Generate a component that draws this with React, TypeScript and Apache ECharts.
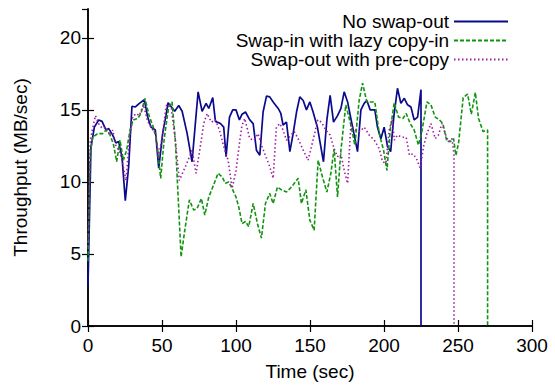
import React, { useEffect, useRef } from "react";
import * as echarts from "echarts";

const seriesNames = ["No swap-out", "Swap-in with lazy copy-in", "Swap-out with pre-copy"];

const noSwapOut: [number, number][] = [
  [0, 2.8], [2, 12.4], [4.3, 13.8], [7.2, 14.3], [9.5, 14.2], [12.2, 13.6], [14, 13.7], [16.7, 13.25],
  [18.9, 12.7], [20.7, 12.8], [23, 11.7], [25.2, 8.7], [27.5, 11.1], [29.7, 15.25], [32, 15.2],
  [34.7, 15.45], [38.1, 15.7], [40.3, 14.5], [42.6, 13.8], [45.5, 13.6], [47.8, 10.95], [50.5, 13.4],
  [52.7, 14.6], [54.1, 15.5], [58.6, 14.9], [61.3, 15.3], [63.6, 14.9], [66.9, 13.4], [70.3, 11.4],
  [74.4, 16.25], [77.1, 14.9], [79.8, 15.45], [81.6, 15.1], [84.3, 15.85], [86.1, 14.2], [89.5, 14.05],
  [91.7, 13.8], [93.3, 11.75], [95.6, 14.5], [97.8, 15.0], [100, 15.0], [102.3, 14.3], [104.1, 14.7],
  [106.4, 14.85], [109.3, 14.3], [111.6, 14.05], [113.8, 12.2], [116.1, 11.85], [118.3, 14.85],
  [120.6, 15.95], [122.8, 15.9], [125.1, 15.55], [128.5, 15.1], [130.3, 14.75], [131.8, 13.95],
  [134.1, 14.15], [136.4, 12.1], [138.6, 13.35], [140.9, 14.85], [143.1, 15.9], [145.4, 15.65],
  [147.6, 15.0], [149.9, 15.55], [152.1, 14.85], [155, 13.8], [159.1, 11.4], [161.4, 14.3], [163.6, 16.0],
  [165.9, 14.15], [168.6, 14.6], [170.9, 15.1], [173.1, 16.25], [175.4, 15.55], [177.6, 14.4],
  [179.9, 13.25], [182.1, 12.1], [184.4, 15.0], [186.6, 15.45], [188.4, 15.65], [190.7, 15.0],
  [193.8, 15.0], [195.6, 13.8], [197.9, 13.0], [200.1, 13.8], [202.4, 12.45], [204.5, 12.1],
  [206.6, 14.5], [209.1, 16.5], [211.4, 15.45], [213.7, 15.8], [215.9, 15.35], [218.2, 15.2],
  [220.4, 14.3], [222.7, 14.5], [225, 16.4], [225, 0],
];

const lazyCopyIn: [number, number][] = [
  [0, 4.5], [1.5, 12.0], [3.2, 13.1], [6.5, 13.35], [9.9, 13.35], [12.2, 13.6], [14.9, 13.25],
  [17.1, 12.65], [19.4, 11.4], [21.6, 12.9], [23.9, 11.5], [26.1, 12.2], [28.4, 13.6], [30.6, 14.3],
  [33.6, 14.4], [35.8, 14.75], [38.5, 15.8], [41.5, 14.5], [43.7, 13.95], [46.4, 12.9], [49.1, 10.25],
  [51.5, 13.0], [54.5, 15.2], [56.8, 15.55], [59, 12.9], [60.9, 9.0], [62.9, 4.8], [65.4, 6.65],
  [68.5, 8.75], [71.4, 8.05], [73.7, 8.15], [76.6, 8.85], [78.9, 7.7], [81.6, 8.95], [84.9, 9.8],
  [87.9, 10.6], [90.6, 10.35], [92.8, 9.9], [95.1, 10.0], [97.8, 9.45], [100, 8.95], [102, 8.2],
  [104.1, 7.1], [106.4, 7.25], [108.6, 6.9], [111.6, 8.5], [114.5, 7.1], [117.2, 6.1], [119.9, 8.5],
  [122.8, 9.2], [125.1, 8.5], [128, 9.65], [130.7, 9.45], [134.1, 9.3], [137.5, 9.65], [142, 10.25],
  [144.2, 8.5], [147.2, 9.45], [149.9, 7.35], [152.8, 6.65], [155.5, 11.5], [158.4, 10.35],
  [161.4, 9.3], [164.1, 10.6], [166.3, 12.3], [168.6, 8.95], [170.9, 12.2], [174.2, 15.35],
  [177.6, 13.95], [180.3, 12.55], [183.2, 15.65], [185.5, 16.85], [188.4, 15.55], [191.1, 15.55],
  [193.8, 15.55], [196.8, 13.35], [199.7, 12.2], [202, 10.8], [204.2, 13.6], [206.9, 15.5],
  [209.8, 14.5], [212.8, 14.4], [215, 14.75], [217.7, 14.05], [220.4, 13.6], [223.3, 12.55],
  [225.6, 13.5], [229, 15.55], [231.7, 15.35], [234.6, 14.5], [237.5, 14.3], [239.8, 14.05],
  [242.5, 12.8], [244.8, 12.8], [247, 13.0], [248.6, 11.85], [250.4, 12.7], [253.5, 15.85],
  [256.5, 16.1], [259, 14.7], [261.7, 16.2], [263.9, 14.4], [266.9, 13.5], [270, 13.6], [270, 0],
];

const preCopy: [number, number][] = [
  [0, 5.5], [1.5, 12.9], [5, 14.6], [7.6, 13.95], [9.9, 13.7], [12.2, 13.8], [14.9, 13.25], [16.7, 13.6],
  [18.9, 12.45], [21.2, 12.2], [23.4, 11.3], [25.7, 10.1], [27.9, 12.9], [30.2, 14.5], [32.5, 14.75],
  [34.7, 14.6], [37.4, 15.35], [40.3, 14.2], [42.6, 13.8], [45.5, 13.35], [47.8, 11.75], [50.5, 13.35],
  [52.7, 15.2], [53.4, 15.4], [56.3, 15.1], [59, 12.9], [61.7, 10.1], [64.7, 10.8], [67.6, 11.5],
  [70.3, 12.2], [73, 10.6], [75.9, 12.45], [78.2, 14.05], [80.5, 14.75], [83.4, 14.15], [86.1, 14.3],
  [88.8, 13.6], [91.7, 12.45], [94.7, 11.5], [97.4, 9.55], [100, 10.8], [102.3, 12.65], [104, 13.9],
  [105.9, 14.4], [109.3, 13.0], [112.2, 12.9], [114.9, 13.35], [117.6, 12.45], [120.6, 11.65],
  [122.8, 11.05], [125.1, 10.25], [127.3, 13.8], [129.6, 14.05], [131.8, 13.6], [134.1, 12.9],
  [136.4, 13.15], [139.3, 13.5], [142, 13.0], [145.4, 12.2], [148.7, 11.5], [151, 12.45], [153.7, 13.6],
  [155.2, 14.3], [157.7, 14.15], [160.7, 13.6], [163.6, 13.25], [166.3, 12.3], [168.6, 11.75],
  [170.9, 11.95], [173.1, 10.8], [175.4, 9.9], [177.6, 13.95], [180.3, 13.6], [183.9, 13.5],
  [186.6, 13.8], [190, 13.25], [193.4, 12.9], [196.8, 12.3], [199, 11.4], [201.3, 11.3], [203.5, 13.6],
  [205.5, 14.35], [207, 12.9], [209.1, 13.25], [212.1, 13.1], [215, 13.1], [217.2, 11.85],
  [219.5, 11.95], [221.8, 11.65], [224.5, 10.95], [226.7, 12.45], [229, 13.35], [231.7, 14.05],
  [234.6, 13.0], [236.8, 13.25], [239.1, 14.05], [241.4, 13.35], [243.6, 12.8], [245.9, 13.0],
  [247.3, 11.95], [247.3, 0],
];

const xTicks = { min: 0, max: 300, interval: 50 };
const yTicks = { min: 0, max: 22, interval: 5 };

const FONT = "Liberation Sans";

export default function App() {
  const ref = useRef<HTMLDivElement>(null);
  useEffect(() => {
    if (!ref.current) return;
    const chart = echarts.init(ref.current, undefined, { renderer: "svg" });
    const axisLine = { show: true, lineStyle: { color: "#000", width: 1.5 } };
    const tick = { show: true, inside: true, length: 6, lineStyle: { color: "#000", width: 1.2 } };
    chart.setOption({
      animation: false,
      backgroundColor: "#fff",
      grid: { left: 88, right: 23, top: 9, bottom: 60, containLabel: false },
      legend: {
        orient: "vertical",
        align: "right",
        right: 46,
        top: 12,
        padding: 0,
        itemWidth: 54,
        itemHeight: 10,
        itemGap: 0,
        itemStyle: { opacity: 0 },
        textStyle: { fontFamily: FONT, fontSize: 19, color: "#000", lineHeight: 17.5 },
        data: seriesNames,
      },
      xAxis: [
        {
          type: "value", ...xTicks, position: "bottom",
          name: "Time (sec)", nameLocation: "middle", nameGap: 36,
          nameTextStyle: { fontFamily: FONT, fontSize: 19, color: "#000" },
          axisLine, axisTick: tick, splitLine: { show: false },
          axisLabel: { fontFamily: FONT, fontSize: 19, color: "#000", margin: 10 },
        },
        {
          type: "value", ...xTicks, position: "top",
          axisLine, axisTick: tick, splitLine: { show: false }, axisLabel: { show: false },
        },
      ],
      yAxis: [
        {
          type: "value", ...yTicks, position: "left",
          name: "Throughput (MB/sec)", nameLocation: "middle", nameGap: 58,
          nameTextStyle: { fontFamily: FONT, fontSize: 19, color: "#000" },
          axisLine, axisTick: tick, splitLine: { show: false },
          axisLabel: { fontFamily: FONT, fontSize: 19, color: "#000", margin: 7, showMaxLabel: false },
        },
        {
          type: "value", ...yTicks, position: "right",
          axisLine, axisTick: tick, splitLine: { show: false }, axisLabel: { show: false },
        },
      ],
      series: [
        {
          name: seriesNames[0], type: "line", data: noSwapOut, symbol: "none",
          xAxisIndex: 0, yAxisIndex: 0,
          lineStyle: { color: "#0a0a8c", width: 1.7, type: "solid" },
          itemStyle: { color: "#0a0a8c" },
        },
        {
          name: seriesNames[1], type: "line", data: lazyCopyIn, symbol: "none",
          xAxisIndex: 0, yAxisIndex: 0,
          lineStyle: { color: "#109410", width: 1.6, type: [4, 2] },
          itemStyle: { color: "#109410" },
        },
        {
          name: seriesNames[2], type: "line", data: preCopy, symbol: "none",
          xAxisIndex: 0, yAxisIndex: 0,
          lineStyle: { color: "#a01ca0", width: 1.6, type: [1.5, 2.5] },
          itemStyle: { color: "#a01ca0" },
        },
      ],
    });
    return () => chart.dispose();
  }, []);
  return (
    <div
      ref={ref}
      style={{ position: "fixed", left: 0, top: 0, width: 555, height: 386, background: "#fff" }}
    />
  );
}
